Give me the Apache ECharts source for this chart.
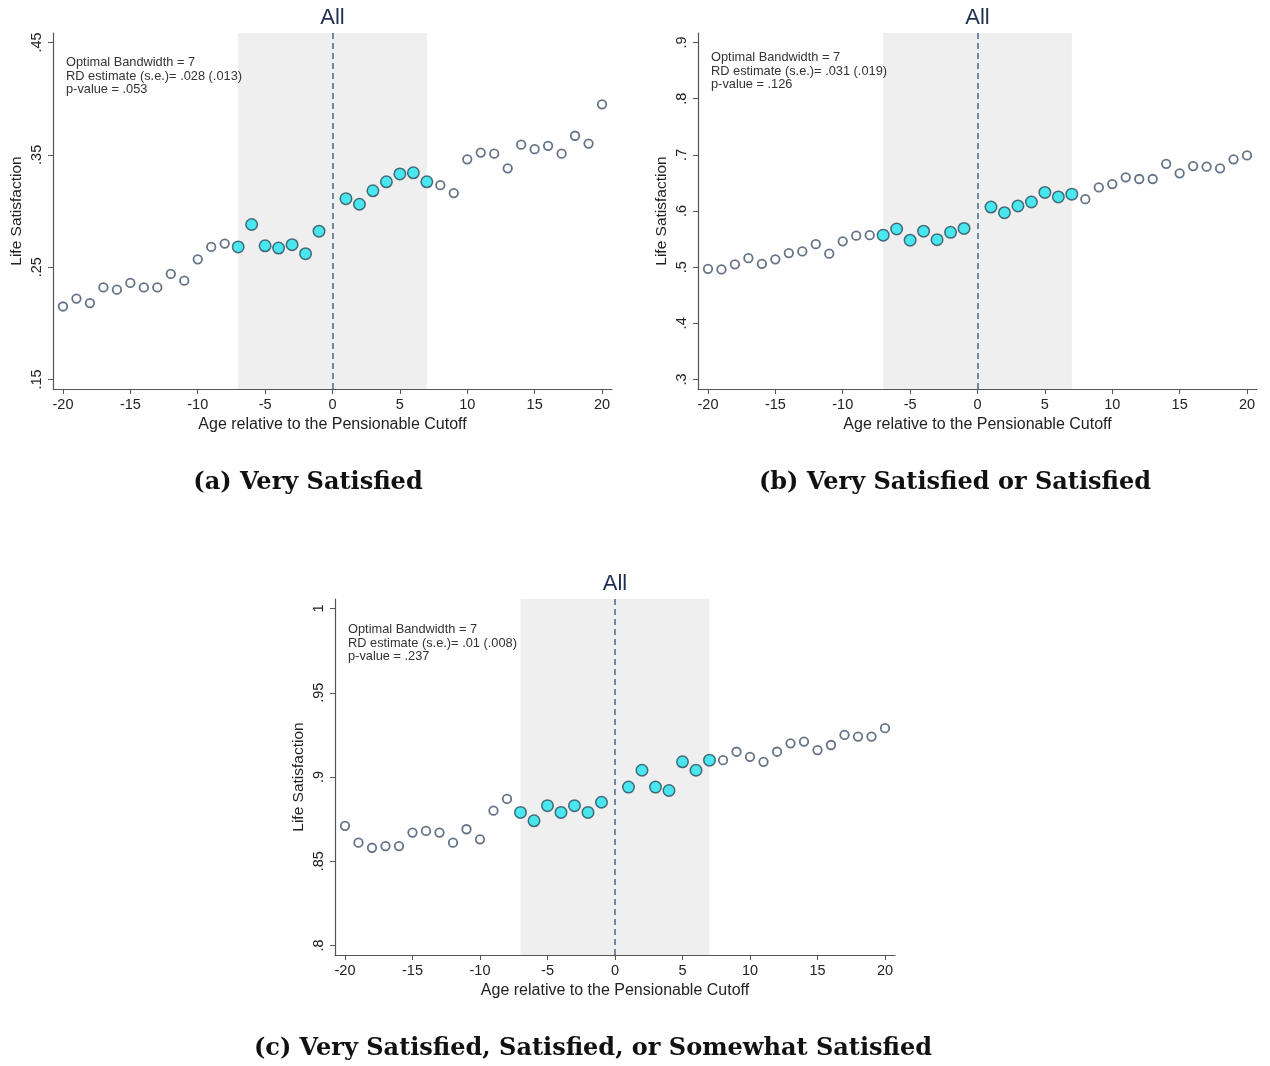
<!DOCTYPE html>
<html><head><meta charset="utf-8">
<script src="https://cdn.jsdelivr.net/npm/echarts@6/dist/echarts.min.js"></script>
<style>html,body{margin:0;padding:0;background:#fff}#c{width:1270px;height:1066px}</style>
</head><body><div id="c"></div>
<script>
// ---- data ----
const ages = [-20,-19,-18,-17,-16,-15,-14,-13,-12,-11,-10,-9,-8,-7,-6,-5,-4,-3,-2,-1,
              1,2,3,4,5,6,7,8,9,10,11,12,13,14,15,16,17,18,19,20];
const verySatisfied = [0.215,0.222,0.218,0.232,0.230,0.236,0.232,0.232,0.244,0.238,0.257,0.268,0.271,0.268,0.288,0.269,0.267,0.270,0.262,0.282,
                       0.311,0.306,0.318,0.326,0.333,0.334,0.326,0.323,0.316,0.346,0.352,0.351,0.338,0.359,0.355,0.358,0.351,0.367,0.360,0.395];
const satisfiedOrVery = [0.497,0.496,0.505,0.516,0.506,0.514,0.525,0.528,0.541,0.524,0.546,0.556,0.557,0.557,0.568,0.548,0.564,0.549,0.562,0.569,
                         0.607,0.597,0.609,0.616,0.633,0.625,0.630,0.621,0.642,0.648,0.660,0.657,0.657,0.684,0.667,0.680,0.679,0.676,0.692,0.699];
const anySatisfied = [0.871,0.861,0.858,0.859,0.859,0.867,0.868,0.867,0.861,0.869,0.863,0.880,0.887,0.879,0.874,0.883,0.879,0.883,0.879,0.885,
                      0.894,0.904,0.894,0.892,0.909,0.904,0.910,0.910,0.915,0.912,0.909,0.915,0.920,0.921,0.916,0.919,0.925,0.924,0.924,0.929];
const bandwidth = 7;
const cutoff = 0;
const xTicks = [-20,-15,-10,-5,0,5,10,15,20];
const yTicksA = [0.15,0.25,0.35,0.45];
const yTicksB = [0.3,0.4,0.5,0.6,0.7,0.8,0.9];
const yTicksC = [0.8,0.85,0.9,0.95,1];
const panelTitle = 'All';
const xName = 'Age relative to the Pensionable Cutoff';
const yName = 'Life Satisfaction';
const notesA = ['Optimal Bandwidth = 7','RD estimate (s.e.)= .028 (.013)','p-value = .053'];
const notesB = ['Optimal Bandwidth = 7','RD estimate (s.e.)= .031 (.019)','p-value = .126'];
const notesC = ['Optimal Bandwidth = 7','RD estimate (s.e.)= .01 (.008)','p-value = .237'];
const captions = ['(a) Very Satisfied','(b) Very Satisfied or Satisfied','(c) Very Satisfied, Satisfied, or Somewhat Satisfied'];

// ---- layout ----
const panels = [
  {values: verySatisfied,   yTicks: yTicksA, notes: notesA, grid:{left:53, top:33, width:559, height:356}, noteDy:23, cap:{x:308, y:483}, caption:captions[0]},
  {values: satisfiedOrVery, yTicks: yTicksB, notes: notesB, grid:{left:698, top:33, width:559, height:356}, noteDy:18, cap:{x:955, y:483}, caption:captions[1]},
  {values: anySatisfied,    yTicks: yTicksC, notes: notesC, grid:{left:335, top:599, width:560, height:356}, noteDy:24, cap:{x:593, y:1049}, caption:captions[2]}
];
const XPAD = 0.74;
const PADF = 0.0282;
const fmtY = v => String(+(+v).toFixed(2)).replace(/^0\./,'.').replace(/^-0\./,'-.');
const axisCol = '#555';
const txtCol = '#222';
const FONT = '"Liberation Sans", Arial, sans-serif';

const option = {animation:false, backgroundColor:'#fff', grid:[], xAxis:[], yAxis:[], series:[], title:[], graphic:[]};

panels.forEach((p, i) => {
  const xmin = xTicks[0]-XPAD, xmax = xTicks[xTicks.length-1]+XPAD;
  const lo = p.yTicks[0], hi = p.yTicks[p.yTicks.length-1];
  const span = hi-lo;
  option.grid.push(Object.assign({containLabel:false}, p.grid));
  option.xAxis.push({
    type:'value', gridIndex:i, min:xmin, max:xmax,
    name:xName, nameLocation:'middle', nameGap:28,
    nameTextStyle:{fontFamily:FONT, fontSize:16, color:txtCol},
    axisLine:{show:true, onZero:false, lineStyle:{color:axisCol, width:1.2}},
    axisTick:{show:true, customValues:xTicks, length:5, lineStyle:{color:axisCol}},
    axisLabel:{customValues:xTicks, fontFamily:FONT, fontSize:14.5, color:txtCol, margin:8, formatter:v=>String(Math.round(v))},
    splitLine:{show:false}
  });
  option.yAxis.push({
    type:'value', gridIndex:i, min:lo-span*PADF, max:hi+span*PADF,
    name:yName, nameLocation:'middle', nameGap:28, nameRotate:90,
    nameTextStyle:{fontFamily:FONT, fontSize:15.5, color:txtCol},
    axisLine:{show:true, onZero:false, lineStyle:{color:axisCol, width:1.2}},
    axisTick:{show:true, customValues:p.yTicks, length:5, lineStyle:{color:axisCol}},
    axisLabel:{customValues:p.yTicks, rotate:90, fontFamily:FONT, fontSize:14.5, color:txtCol, margin:9, formatter:fmtY},
    splitLine:{show:false}
  });
  // shading + cutoff line
  option.series.push({
    type:'scatter', xAxisIndex:i, yAxisIndex:i, data:[], silent:true, z:1,
    markArea:{silent:true, itemStyle:{color:'#efefef'}, data:[[{xAxis:cutoff-bandwidth},{xAxis:cutoff+bandwidth}]]},
    markLine:{silent:true, symbol:['none','none'], label:{show:false},
      lineStyle:{color:'#4a6a88', width:1.5, type:[6,4]}, data:[{xAxis:cutoff}]}
  });
  const outside = [], inside = [];
  ages.forEach((a, k) => {
    (Math.abs(a-cutoff) <= bandwidth ? inside : outside).push([a, p.values[k]]);
  });
  option.series.push({
    type:'scatter', xAxisIndex:i, yAxisIndex:i, data:outside, z:3,
    symbol:'circle', symbolSize:8.5,
    itemStyle:{color:'#ffffff', borderColor:'#3e5068', borderWidth:1.8}
  });
  option.series.push({
    type:'scatter', xAxisIndex:i, yAxisIndex:i, data:inside, z:4,
    symbol:'circle', symbolSize:11.5,
    itemStyle:{color:'#1fe3ec', borderColor:'#2b4a5c', borderWidth:1.5}
  });
  const cx = p.grid.left + (cutoff-xmin)/(xmax-xmin)*p.grid.width;
  option.graphic.push({
    type:'text', x:cx, y:p.grid.top-15, silent:true, z:100,
    style:{text:panelTitle, fontFamily:FONT, fontSize:22, fill:'#1f2f4f', align:'center', verticalAlign:'middle'}
  });
  option.graphic.push({
    type:'text', x:p.grid.left+13, y:p.grid.top+p.noteDy, silent:true, z:100,
    style:{text:p.notes.join('\n'), fontFamily:FONT, fontSize:12.8, lineHeight:13.5, fill:'#333', align:'left', verticalAlign:'top'}
  });
  option.graphic.push({
    type:'text', x:p.cap.x, y:p.cap.y, silent:true, z:100,
    style:{text:p.caption, fontFamily:'"DejaVu Serif", serif', fontWeight:'bold', fontSize:24, fill:'#111', align:'center', verticalAlign:'middle'}
  });
});

const chart = echarts.init(document.getElementById('c'), null, {renderer:'canvas'});
chart.setOption(option);
</script>
</body></html>
